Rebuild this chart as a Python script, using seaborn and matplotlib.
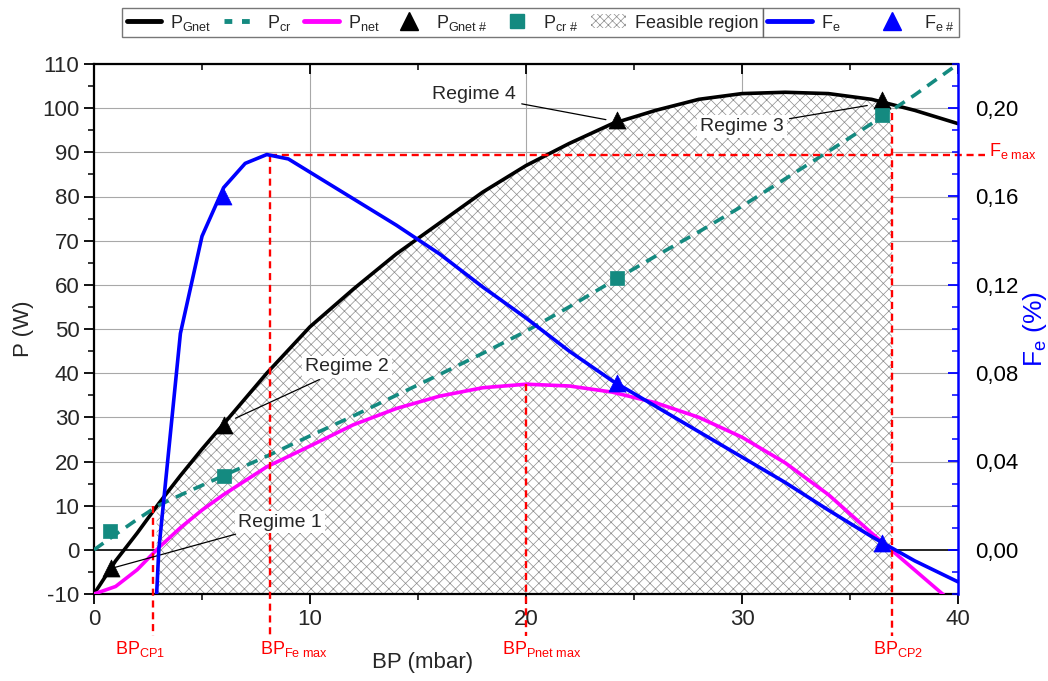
import numpy as np
import pandas as pd
import matplotlib
matplotlib.use("Agg")
import matplotlib.pyplot as plt
import matplotlib.transforms as mtransforms
from matplotlib.lines import Line2D
from matplotlib.patches import Patch
from matplotlib.ticker import MultipleLocator, FuncFormatter
import seaborn as sns

# ---------------- data ----------------
bp = [0, 1, 2, 3, 4, 5, 6, 8, 10, 12, 14, 16, 18, 20, 22, 24, 26, 28, 30, 32, 34, 36, 38, 40]
p_gnet = [-10, -2.5, 3.8, 10.5, 16.8, 22.8, 28.5, 40, 50.5, 59, 67, 74, 81, 87, 92, 96.5,
          99.5, 102, 103.3, 103.6, 103.3, 102, 99.5, 96.5]
p_cr = [0, 3.5, 6.9, 10.1, 12.4, 14.6, 16.8, 21.2, 25.8, 30.3, 35, 39.7, 44.5, 49.5, 55, 60.8,
        66.5, 72, 77.8, 84, 90.2, 96.5, 103, 110]
p_net = [-10, -8.3, -4.5, 0.5, 5, 9, 12.5, 18.8, 23.5, 28.3, 32, 34.8, 36.7, 37.5, 37.1, 35.7,
         33.3, 30, 25.5, 19.7, 12.5, 3.8, -4.6, -13]

bp_fe = [2.9, 3.0, 4, 5, 6, 7, 8, 9, 10, 12, 14, 16, 18, 20, 22, 24, 26, 28, 30, 32, 34, 36, 38, 40]
fe = [-0.02, 0.0, 0.098, 0.142, 0.164, 0.175, 0.179, 0.177, 0.171, 0.159, 0.147, 0.134, 0.119,
      0.105, 0.090, 0.0765, 0.065, 0.0535, 0.042, 0.0305, 0.018, 0.006, -0.005, -0.0145]

bp_gnet_mark = [0.8, 6.0, 24.2, 36.5]
gnet_mark = [-4.2, 28.2, 97.3, 101.8]
bp_cr_mark = [0.75, 6.0, 24.2, 36.5]
cr_mark = [4.3, 16.8, 61.5, 98.5]
bp_fe_mark = [5.95, 24.2, 36.5]
fe_mark = [0.160, 0.0755, 0.003]

bp_cp1, bp_fe_max, bp_pnet_max, bp_cp2 = 2.75, 8.15, 20.0, 36.95
p_cp1_top, fe_max_p, pnet_max, p_cp2_top = 10.0, 89.5, 37.5, 99.0

bp_labels = ["CP1", "Fe\\ max", "Pnet\\ max", "CP2"]
bp_label_x = [0.97, 7.7, 18.9, 36.06]

regime_labels = ["Regime 1", "Regime 2", "Regime 3", "Regime 4"]
regime_text_xy = [(8.6, 6.3), (11.7, 41.4), (30.0, 95.8), (17.6, 103.0)]
regime_point_xy = [(0.95, -4.0), (6.55, 29.8), (35.8, 100.6), (23.7, 97.4)]

# ---------------- style ----------------
sns.set_theme(style="white")
plt.rcParams["font.family"] = ["Liberation Sans", "DejaVu Sans"]
plt.rcParams.update({
    "mathtext.fontset": "custom",
    "mathtext.rm": "Liberation Sans",
    "mathtext.it": "Liberation Sans:italic",
    "mathtext.bf": "Liberation Sans:bold",
    "hatch.linewidth": 0.5,
    "hatch.color": "#8c8c8c",
    "axes.unicode_minus": False,
})

BLACK, TEAL, MAGENTA, BLUE, RED = "#000000", "#148a80", "#ff00ff", "#0000ff", "#ff0000"
HATCH_C = "#8c8c8c"

fig = plt.figure(figsize=(10.48, 6.81), dpi=100)
ax = fig.add_axes([94 / 1048, 1 - 594 / 681, 864 / 1048, 530 / 681])
ax2 = ax.twinx()

ax.set_xlim(0, 40)
ax.set_ylim(-10, 110)
ax2.set_ylim(-0.02, 0.22)

# grid
for yv in range(10, 111, 10):
    ax.axhline(yv, color="#a8a8a8", lw=0.8, zorder=0)
for xv in (10, 20, 30):
    ax.axvline(xv, color="#a8a8a8", lw=0.8, zorder=0)
ax.axhline(0, color="black", lw=1.2, zorder=1)

# feasible region
xf = np.linspace(2.9, bp_cp2, 300)
ax.fill_between(xf, -10, np.interp(xf, bp, p_gnet), facecolor="white", edgecolor=HATCH_C,
                hatch="xxx", linewidth=0, zorder=1)

# curves
df = pd.DataFrame({"bp": bp, "gnet": p_gnet, "cr": p_cr, "net": p_net})
sns.lineplot(data=df, x="bp", y="gnet", ax=ax, color=BLACK, lw=2.6, sort=False, estimator=None, zorder=4)
sns.lineplot(data=df, x="bp", y="cr", ax=ax, color=TEAL, lw=2.6, sort=False, estimator=None,
             linestyle=(0, (3.2, 2.2)), zorder=4)
sns.lineplot(data=df, x="bp", y="net", ax=ax, color=MAGENTA, lw=2.6, sort=False, estimator=None, zorder=4)

sns.scatterplot(x=bp_gnet_mark, y=gnet_mark, ax=ax, marker="^", s=150, color=BLACK, edgecolor=BLACK,
                linewidth=0.5, zorder=6)
sns.scatterplot(x=bp_cr_mark, y=cr_mark, ax=ax, marker="s", s=95, color=TEAL, edgecolor=TEAL,
                linewidth=0.5, zorder=6)

dfe = pd.DataFrame({"bp": bp_fe, "fe": fe})
sns.lineplot(data=dfe, x="bp", y="fe", ax=ax2, color=BLUE, lw=2.6, sort=False, estimator=None, zorder=4)
sns.scatterplot(x=bp_fe_mark, y=fe_mark, ax=ax2, marker="^", s=150, color=BLUE, edgecolor=BLUE,
                linewidth=0.5, zorder=6)

# red reference lines
rkw = dict(color=RED, lw=1.7, linestyle=(0, (3, 2)), clip_on=False, zorder=5)
ybot = -19.5
ax.plot([bp_cp1, bp_cp1], [p_cp1_top, ybot], **rkw)
ax.plot([bp_fe_max, bp_fe_max], [fe_max_p, ybot], **rkw)
ax.plot([bp_pnet_max, bp_pnet_max], [pnet_max, ybot], **rkw)
ax.plot([bp_cp2, bp_cp2], [p_cp2_top, ybot], **rkw)
ax.plot([bp_fe_max, 41.25], [fe_max_p, fe_max_p], **rkw)
ax.text(41.45, 88.0, r"F$_{\mathrm{e\ max}}$", color=RED, fontsize=13, ha="left", va="bottom",
        clip_on=False)

trans = mtransforms.blended_transform_factory(ax.transData, ax.transAxes)
for xv, sub in zip(bp_label_x, bp_labels):
    ax.text(xv, -0.085, r"BP$_{\mathrm{" + sub + "}}$", color=RED, fontsize=13,
            ha="left", va="top", transform=trans, clip_on=False)

# regime annotations
for lab, txy, pxy in zip(regime_labels, regime_text_xy, regime_point_xy):
    ax.annotate(lab, xy=pxy, xytext=txy, ha="center", va="center", fontsize=14, zorder=8,
                bbox=dict(boxstyle="square,pad=0.15", fc="white", ec="none"),
                arrowprops=dict(arrowstyle="-", color="black", lw=0.9, shrinkA=2, shrinkB=0))

# axes styling
ax.set_xlabel("BP (mbar)", fontsize=16)
ax.xaxis.set_label_coords((423 - 94) / 864, -(652 - 594) / 530)
ax.set_ylabel("P (W)", fontsize=16, labelpad=6)
ax2.set_xlabel("")
ax2.set_ylabel(r"F$_{\mathrm{e}}$ (%)", fontsize=19, color=BLUE, labelpad=2)

ax.xaxis.set_major_locator(MultipleLocator(10))
ax.xaxis.set_minor_locator(MultipleLocator(5))
ax.yaxis.set_major_locator(MultipleLocator(10))
ax.yaxis.set_minor_locator(MultipleLocator(5))
ax2.yaxis.set_major_locator(MultipleLocator(0.04))
ax2.yaxis.set_minor_locator(MultipleLocator(0.01))
ax2.yaxis.set_major_formatter(FuncFormatter(lambda v, p: f"{v:.2f}".replace(".", ",").replace("-0,00", "0,00")))

ax.tick_params(axis="both", which="major", labelsize=16, length=7, width=1.3, color="black",
               direction="out", left=True, bottom=True)
ax.tick_params(axis="both", which="minor", length=4, width=1.1, color="black", direction="out",
               left=True, bottom=True)
ax.tick_params(axis="x", which="major", pad=4)
ax.xaxis.set_tick_params(which="both", top=True)
for t in ax.xaxis.get_major_ticks() + ax.xaxis.get_minor_ticks():
    t.tick2line.set_marker(3)
ax2.tick_params(axis="y", which="major", labelsize=16, length=7, width=1.3, color=BLUE,
                direction="in", pad=12, labelcolor="black")
ax2.tick_params(axis="y", which="minor", length=4, width=1.1, color=BLUE, direction="in")

for name, sp in ax.spines.items():
    sp.set_color("black")
    sp.set_linewidth(1.6)
for name, sp in ax2.spines.items():
    sp.set_visible(False)
ax2.spines["right"].set_visible(True)
ax2.spines["right"].set_color(BLUE)
ax2.spines["right"].set_linewidth(1.8)
ax.spines["right"].set_visible(False)

# legends
h1 = [
    Line2D([], [], color=BLACK, lw=3.5),
    Line2D([], [], color=TEAL, lw=3.5, linestyle=(0, (1.6, 2.0))),
    Line2D([], [], color=MAGENTA, lw=3.5),
    Line2D([], [], color=BLACK, marker="^", ms=13, lw=0),
    Line2D([], [], color=TEAL, marker="s", ms=10, lw=0),
    Patch(facecolor="white", edgecolor=HATCH_C, hatch="xxxx", lw=0),
]
l1 = [r"P$_{\mathrm{Gnet}}$", r"P$_{\mathrm{cr}}$", r"P$_{\mathrm{net}}$",
      r"P$_{\mathrm{Gnet\ \#}}$", r"P$_{\mathrm{cr\ \#}}$", "Feasible region"]
h2 = [Line2D([], [], color=BLUE, lw=3.5), Line2D([], [], color=BLUE, marker="^", ms=13, lw=0)]
l2 = [r"F$_{\mathrm{e}}$", r"F$_{\mathrm{e\ \#}}$"]

leg_kw = dict(fontsize=13, frameon=True, fancybox=False, edgecolor="#555555", borderpad=0.25,
              handletextpad=0.5, handleheight=0.8, borderaxespad=0)
leg1 = fig.legend(h1, l1, loc="upper left", bbox_to_anchor=(122 / 1048, 1 - 8 / 681), ncol=6,
                  columnspacing=0.7, handlelength=1.9, **leg_kw)
fig.canvas.draw()
bb = leg1.get_window_extent()
x_right = bb.x1 / fig.bbox.width
leg2 = fig.legend(h2, l2, loc="upper left", bbox_to_anchor=(x_right, 1 - 8 / 681), ncol=2,
                  columnspacing=1.6, handlelength=2.5, **leg_kw)
for lg in (leg1, leg2):
    lg.get_frame().set_linewidth(1.0)

fig.savefig("out.png", dpi=100)
